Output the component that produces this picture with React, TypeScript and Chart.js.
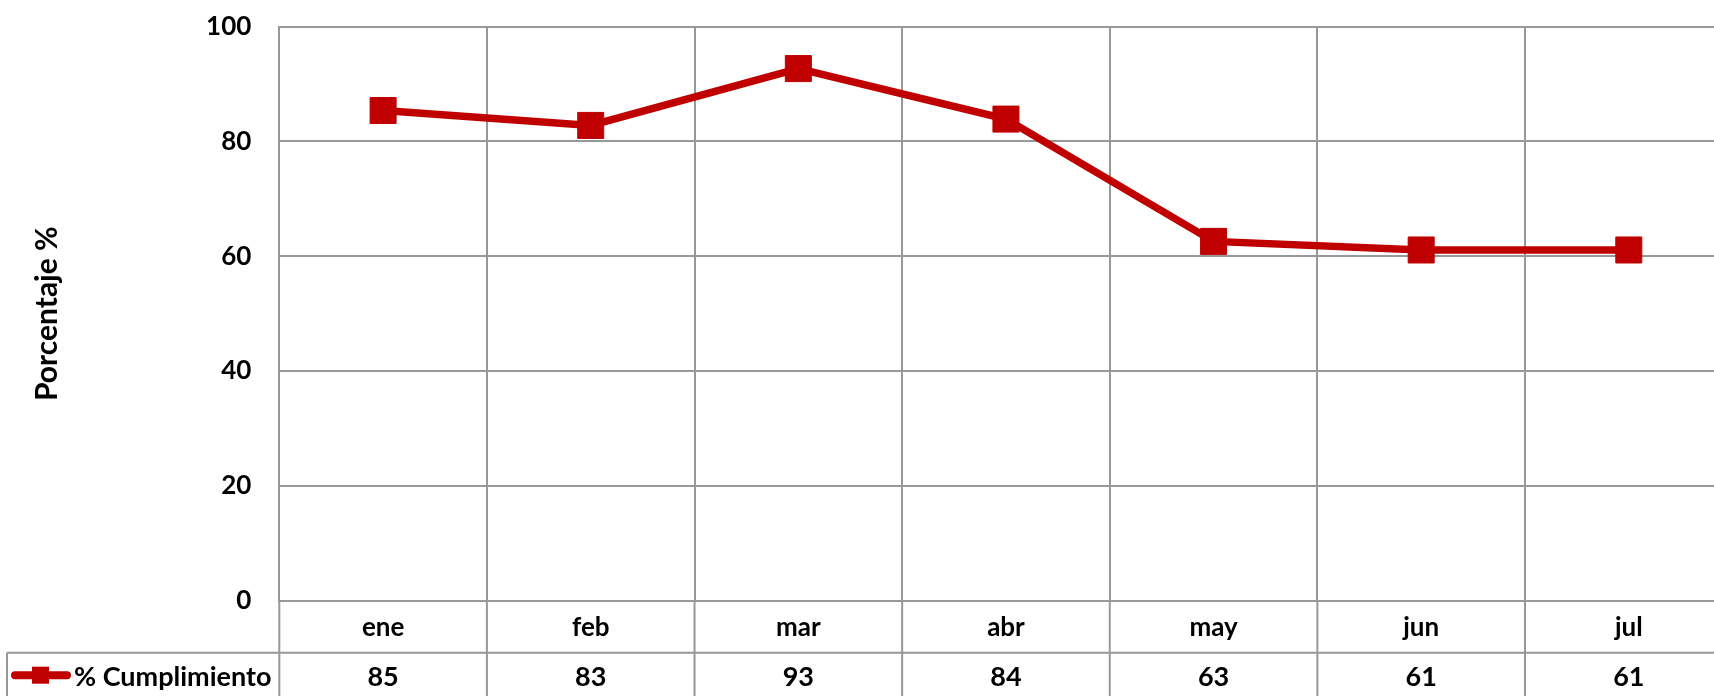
import React, { useEffect, useRef } from 'react';
import { Chart, registerables } from 'chart.js';

Chart.register(...registerables);

const categories = ['ene', 'feb', 'mar', 'abr', 'may', 'jun', 'jul'];
const cumplimiento = [85.4, 82.8, 92.7, 83.9, 62.6, 61.1, 61.1];
const seriesName = '% Cumplimiento';
const yTitle = 'Porcentaje %';
const yMin = 0;
const yMax = 100;
const yStep = 20;

const RED = '#C00000';
const GRID = '#989898';
const FONT = 'Lato, "Open Sans", sans-serif';

const W = 1752;
const H = 712;
const AXIS_W = 279.3;
const TOP = 26.7;
const PAD_RIGHT = 7.3;
const PLOT_BOTTOM = 600.7;
const ROW_H = 52;
const TABLE_LEFT = 7;

const tablePlugin = {
  id: 'dataTable',
  afterDraw(chart: any) {
    const { ctx, chartArea, scales } = chart;
    const x = scales.x;
    const n = categories.length;
    const colW = (x.right - x.left) / n;
    const bottom = chart.height;
    const divY = chartArea.bottom + ROW_H;
    ctx.save();
    ctx.strokeStyle = GRID;
    ctx.lineWidth = 2;
    ctx.beginPath();
    for (let i = 0; i <= n; i++) {
      const gx = x.left + i * colW;
      ctx.moveTo(gx, chartArea.bottom);
      ctx.lineTo(gx, bottom);
    }
    ctx.moveTo(TABLE_LEFT, divY);
    ctx.lineTo(x.right, divY);
    ctx.moveTo(TABLE_LEFT, divY);
    ctx.lineTo(TABLE_LEFT, bottom);
    ctx.stroke();

    const ds = chart.data.datasets[0];
    const rowMid = divY + 24.5;
    ctx.fillStyle = '#000';
    ctx.font = `bold 27px ${FONT}`;
    ctx.textAlign = 'center';
    ctx.textBaseline = 'middle';
    ds.data.forEach((v: number, i: number) => {
      ctx.fillText(String(Math.round(v)), x.getPixelForValue(i), rowMid);
    });

    // legend key
    const keyY = divY + 22.5;
    ctx.strokeStyle = RED;
    ctx.lineWidth = 8;
    ctx.lineCap = 'round';
    ctx.beginPath();
    ctx.moveTo(15, keyY);
    ctx.lineTo(67, keyY);
    ctx.stroke();
    ctx.fillStyle = RED;
    ctx.fillRect(32, keyY - 8.5, 17, 17);
    ctx.fillStyle = '#000';
    ctx.textAlign = 'left';
    ctx.font = `bold 27px ${FONT}`;
    ctx.fillText(ds.label, 74, rowMid);
    ctx.restore();
  },
};

export default function App() {
  const ref = useRef<HTMLCanvasElement | null>(null);

  useEffect(() => {
    if (!ref.current) return;
    const chart = new Chart(ref.current, {
      type: 'line',
      data: {
        labels: categories,
        datasets: [
          {
            label: seriesName,
            data: cumplimiento,
            borderColor: RED,
            backgroundColor: RED,
            borderWidth: 7.5,
            pointStyle: 'rect',
            pointRadius: 18.4,
            pointBorderWidth: 1,
            pointBorderColor: RED,
            pointBackgroundColor: RED,
            tension: 0,
          },
        ],
      },
      options: {
        animation: false,
        responsive: false,
        devicePixelRatio: 1,
        layout: { padding: { left: 0, top: TOP, right: PAD_RIGHT, bottom: 0 } },
        plugins: { legend: { display: false }, tooltip: { enabled: false } },
        scales: {
          x: {
            type: 'category',
            offset: true,
            grid: { offset: true, color: GRID, lineWidth: 2, drawTicks: false },
            border: { color: GRID, width: 2 },
            ticks: {
              color: '#000',
              font: { family: FONT, size: 26, weight: 'bold' },
              padding: 11,
              maxRotation: 0,
              autoSkip: false,
            },
            afterFit: (s: any) => {
              s.height = H - PLOT_BOTTOM;
              s.paddingLeft = 0;
              s.paddingRight = 0;
            },
          },
          y: {
            min: yMin,
            max: yMax,
            ticks: {
              stepSize: yStep,
              padding: 28,
              color: '#000',
              font: { family: FONT, size: 26, weight: 'bold' },
            },
            grid: { color: GRID, lineWidth: 2, drawTicks: false },
            border: { color: GRID, width: 2 },
            title: {
              display: true,
              text: yTitle,
              color: '#000',
              font: { family: FONT, size: 30, weight: 'bold' },
              padding: { top: 29, bottom: 0 },
            },
            afterFit: (s: any) => {
              s.width = AXIS_W;
              s.paddingTop = 0;
              s.paddingBottom = 0;
            },
          },
        },
      },
      plugins: [tablePlugin],
    });
    return () => chart.destroy();
  }, []);

  return (
    <div
      style={{
        position: 'fixed',
        left: 0,
        top: 0,
        width: 1714,
        height: 696,
        overflow: 'hidden',
        background: '#fff',
      }}
    >
      <canvas ref={ref} width={W} height={H} style={{ display: 'block', width: W, height: H }} />
    </div>
  );
}
